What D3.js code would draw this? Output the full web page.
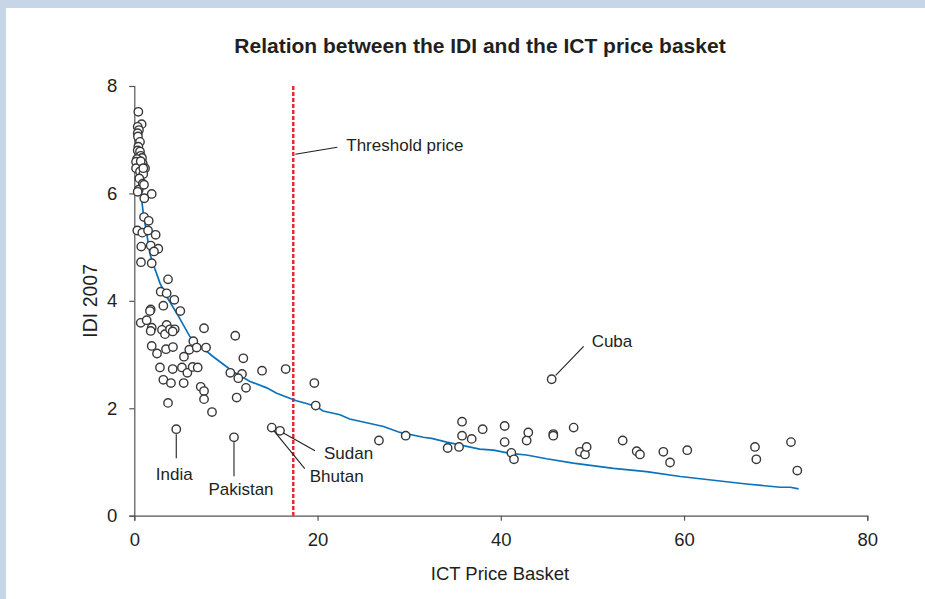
<!DOCTYPE html>
<html>
<head>
<meta charset="utf-8">
<script src="https://cdn.jsdelivr.net/npm/d3@7"></script>
<style>
  html, body { margin: 0; padding: 0; background: #ffffff; }
  svg { display: block; }
  text { font-family: "Liberation Sans", Arial, Helvetica, sans-serif; fill: #231f20; }
</style>
</head>
<body>
<svg id="chart" width="925" height="599"></svg>
<script>
// ICT price basket (x) and IDI 2007 (y) for each economy
const priceBasket = [
  0.44, 0.8, 0.37, 0.51, 0.37, 0.4, 0.62, 0.44, 0.37, 0.62, 0.7, 0.84, 0.3, 0.19, 0.92, 0.19, 1.17, 0.62, 0.98, 0.55, 0.92, 0.48, 1.9, 1.09,
  0.7, 0.98, 1.06, 0.37,
  1.06, 1.57, 0.33, 0.87, 1.5, 2.33, 0.76, 1.79, 2.62, 2.15, 0.73, 1.9, 3.68, 2.88, 3.53, 4.37, 3.17, 5.02, 1.79, 1.71,
  0.7, 1.35, 1.9, 1.79, 3.53, 3.02, 3.35, 3.9, 4.41, 4.19, 7.61, 11.02, 1.9, 2.48, 3.46, 4.22, 6.44, 6.0, 6.81, 7.83,
  5.42, 11.9, 2.8, 4.19, 5.2, 5.79, 6.37, 6.92, 10.48, 11.75, 13.94, 16.52, 3.17, 4.0, 5.39, 11.35, 7.25, 7.61, 7.61,
  12.19, 11.17, 3.68, 8.48,
  19.65, 19.8, 26.7, 29.62, 34.2, 35.44, 35.77, 35.77, 36.82, 38.02, 40.42, 40.42, 41.15, 41.44, 42.82, 43.0,
  45.73, 45.73, 47.95, 48.64, 49.19, 49.37, 53.3, 54.83, 55.19, 57.74, 58.47, 60.35, 67.74, 67.89, 71.67, 72.36
];
const idi2007 = [
  7.52, 7.29, 7.24, 7.18, 7.12, 7.06, 6.96, 6.87, 6.80, 6.78, 6.70, 6.66, 6.64, 6.59, 6.56, 6.47, 6.47, 6.41, 6.36, 6.28, 6.18, 6.07, 5.99, 5.91,
  6.60, 6.47, 6.16, 6.03,
  5.56, 5.49, 5.31, 5.27, 5.31, 5.23, 5.01, 5.03, 4.97, 4.92, 4.72, 4.70, 4.40, 4.17, 4.14, 4.02, 3.91, 3.81, 3.84, 3.81,
  3.59, 3.64, 3.50, 3.44, 3.55, 3.46, 3.38, 3.47, 3.47, 3.43, 3.49, 3.35, 3.16, 3.02, 3.10, 3.14, 3.25, 3.09, 3.13, 3.13,
  2.96, 2.93, 2.76, 2.73, 2.76, 2.66, 2.77, 2.76, 2.66, 2.64, 2.70, 2.73, 2.53, 2.47, 2.47, 2.56, 2.40, 2.32, 2.17,
  2.38, 2.20, 2.10, 1.93,
  2.47, 2.05, 1.40, 1.49, 1.26, 1.28, 1.75, 1.49, 1.43, 1.61, 1.67, 1.37, 1.17, 1.05, 1.40, 1.55,
  1.52, 1.49, 1.64, 1.19, 1.14, 1.28, 1.40, 1.20, 1.14, 1.19, 0.99, 1.22, 1.28, 1.05, 1.37, 0.84
];

// Economies called out by name
const namedCountries = ["India", "Pakistan", "Bhutan", "Sudan", "Cuba"];
const namedPrice = [4.58, 10.88, 15.0, 15.9, 45.55];
const namedIdi = [1.61, 1.46, 1.64, 1.58, 2.54];

// Fitted trend of IDI against price basket
const trendPrice = [0.33, 0.55, 0.98, 1.35, 1.7, 2.07, 2.8, 3.53, 4.63, 6.08, 7.17, 8.62, 10.8, 12.63, 14.45, 15.54, 16.45, 17.7, 18.8, 19.9, 20.6,
  22.45, 23.5, 27.2, 29.0, 31.54, 32.46, 34.1, 37.7, 39.2, 41.0, 42.8, 45.0, 47.9, 52.3, 55.9, 59.6, 63.2, 66.8, 70.5, 71.6, 72.5];
const trendIdi = [6.47, 6.25, 5.63, 5.26, 4.88, 4.68, 4.33, 4.08, 3.77, 3.33, 3.16, 2.96, 2.68, 2.50, 2.38, 2.28, 2.22, 2.14, 2.09, 2.03, 1.95,
  1.88, 1.80, 1.66, 1.55, 1.46, 1.44, 1.37, 1.24, 1.22, 1.16, 1.13, 1.06, 0.98, 0.88, 0.82, 0.73, 0.66, 0.59, 0.53, 0.53, 0.50];

const thresholdPrice = 17.35;
const xTicks = [0, 20, 40, 60, 80];
const yTicks = [0, 2, 4, 6, 8];

const svg = d3.select("#chart");

// page frame
svg.append("rect").attr("x", 0).attr("y", 0).attr("width", 925).attr("height", 599).attr("fill", "#c6d5e8");
svg.append("rect").attr("x", 6).attr("y", 8).attr("width", 919).attr("height", 591).attr("fill", "#ffffff");

const x = d3.scaleLinear().domain([0, 80]).range([134.3, 867.3]);
const y = d3.scaleLinear().domain([0, 8]).range([515.7, 86]);

svg.append("text")
  .attr("x", 480).attr("y", 53)
  .attr("text-anchor", "middle")
  .style("font-size", "21px").style("font-weight", "bold")
  .text("Relation between the IDI and the ICT price basket");

// axes
const xAxis = svg.append("g").attr("transform", `translate(0,${y(0)})`)
  .call(d3.axisBottom(x).tickValues(xTicks).tickSize(5).tickPadding(12));
const yAxis = svg.append("g").attr("transform", `translate(${x(0)},0)`)
  .call(d3.axisLeft(y).tickValues(yTicks).tickSize(5).tickPadding(12));
[xAxis, yAxis].forEach(g => {
  g.attr("font-size", null).attr("font-family", null);
  g.select(".domain").attr("stroke", "#555555").attr("stroke-width", 1.2);
  g.selectAll(".tick line").attr("stroke", "#555555").attr("stroke-width", 1.2);
  g.selectAll(".tick text").style("font-size", "18.5px").attr("fill", "#231f20");
});

svg.append("text")
  .attr("x", 500).attr("y", 580)
  .attr("text-anchor", "middle")
  .style("font-size", "18.5px")
  .text("ICT Price Basket");
svg.append("text")
  .attr("transform", `translate(97,${(y(0) + y(8)) / 2}) rotate(-90)`)
  .attr("text-anchor", "middle")
  .style("font-size", "19.5px")
  .text("IDI 2007");

// threshold price
svg.append("line")
  .attr("x1", x(thresholdPrice)).attr("x2", x(thresholdPrice))
  .attr("y1", y(8)).attr("y2", y(0))
  .attr("stroke", "#e8222a").attr("stroke-width", 2.4)
  .attr("stroke-dasharray", "4,2");

// trend line
const trend = trendPrice.map((p, i) => [p, trendIdi[i]]);
svg.append("path")
  .datum(trend)
  .attr("fill", "none")
  .attr("stroke", "#0a72bc")
  .attr("stroke-width", 1.7)
  .attr("d", d3.line().x(d => x(d[0])).y(d => y(d[1])));

// economies
const points = priceBasket.map((p, i) => ({ p, v: idi2007[i] }))
  .concat(namedPrice.map((p, i) => ({ p, v: namedIdi[i] })));
svg.append("g").selectAll("circle")
  .data(points)
  .join("circle")
  .attr("cx", d => x(d.p)).attr("cy", d => y(d.v))
  .attr("r", 4.2)
  .attr("fill", "#ffffff")
  .attr("stroke", "#383838")
  .attr("stroke-width", 1.4);

// leader lines and labels for named economies (offsets in px from the marker)
const calloutLayout = {
  India:    { l: [0, 5, 0, 29],   t: [-2, 51],  anchor: "middle" },
  Pakistan: { l: [0, 5, 0, 39],   t: [7, 58],   anchor: "middle" },
  Bhutan:   { l: [2, 3, 33, 41],  t: [38, 54],  anchor: "start" },
  Sudan:    { l: [3, 2, 35, 20],  t: [44, 28],  anchor: "start" },
  Cuba:     { l: [4, -4, 32, -33], t: [40, -32], anchor: "start" }
};
const callouts = svg.append("g");
namedCountries.forEach((name, i) => {
  const cx = x(namedPrice[i]), cy = y(namedIdi[i]);
  const c = calloutLayout[name];
  callouts.append("line")
    .attr("x1", cx + c.l[0]).attr("y1", cy + c.l[1])
    .attr("x2", cx + c.l[2]).attr("y2", cy + c.l[3])
    .attr("stroke", "#231f20").attr("stroke-width", 1.1);
  callouts.append("text")
    .attr("x", cx + c.t[0]).attr("y", cy + c.t[1])
    .attr("text-anchor", c.anchor)
    .style("font-size", "17px")
    .text(name);
});

// threshold callout
const tx = x(thresholdPrice);
callouts.append("line")
  .attr("x1", tx + 2).attr("y1", 154.3)
  .attr("x2", tx + 44).attr("y2", 147.3)
  .attr("stroke", "#231f20").attr("stroke-width", 1.1);
callouts.append("text")
  .attr("x", tx + 53).attr("y", 151)
  .style("font-size", "17px")
  .text("Threshold price");
</script>
</body>
</html>
